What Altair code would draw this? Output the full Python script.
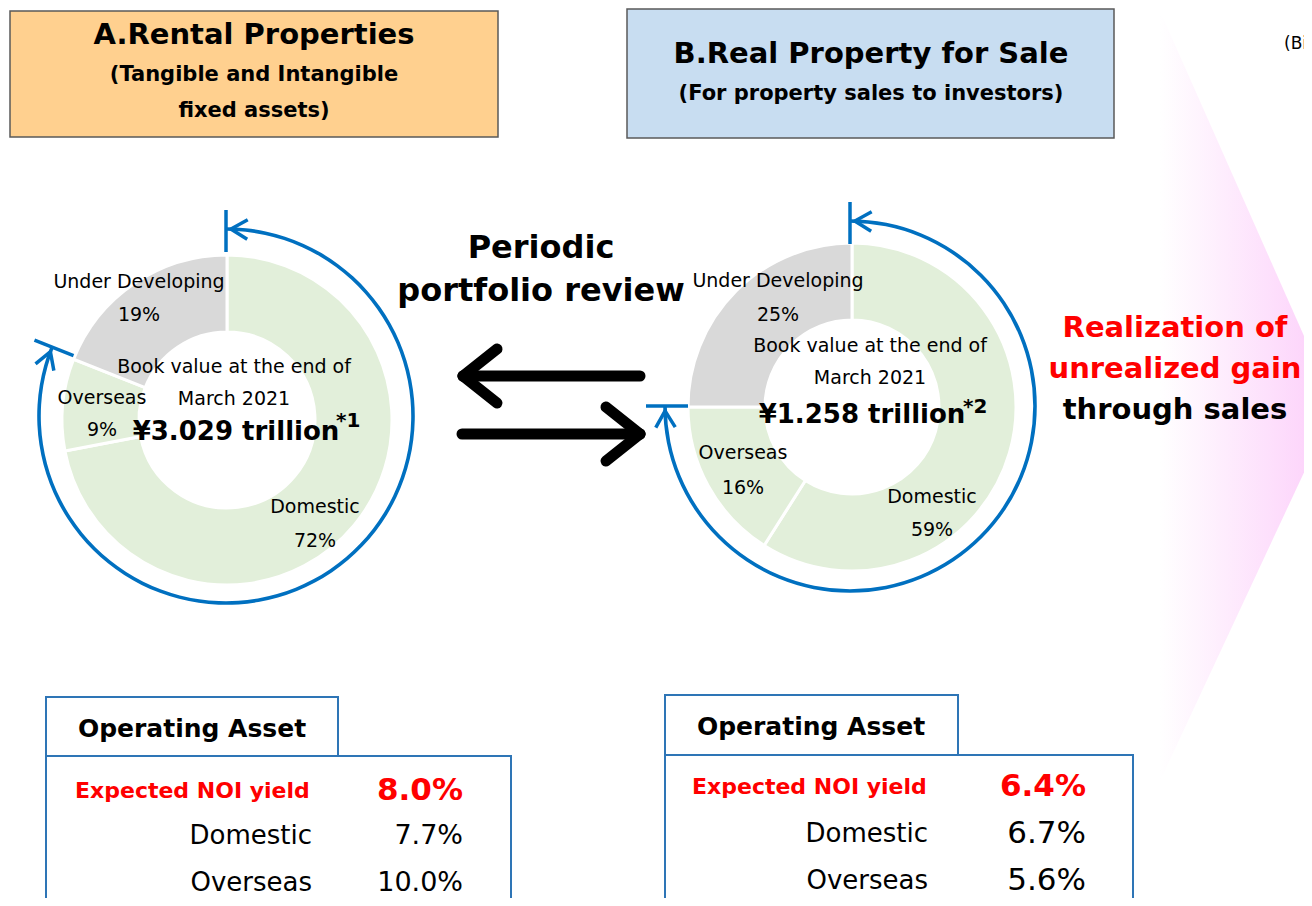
import altair as alt
import pandas as pd
import numpy as np

FONT = "DejaVu Sans"

# ---------------- data ----------------
segments = ["Domestic", "Overseas", "Under Developing"]
share_A = [72, 9, 19]
share_B = [59, 16, 25]
seg_colors = ["#E2EFDA", "#E2EFDA", "#D9D9D9"]
book_values = [3.029, 1.258]          # trillion yen
footnotes = ["*1", "*2"]
noi_labels = ["Expected NOI yield", "Domestic", "Overseas"]
noi_A = [8.0, 7.7, 10.0]
noi_B = [6.4, 6.7, 5.6]

# ---------------- layout (page pixel coordinates) ----------------
W, H = 1296, 890
XS = alt.Scale(domain=[8, 8 + W], range=[0, W], nice=False, zero=False)
YS = alt.Scale(domain=[8, 8 + H], range=[0, H], nice=False, zero=False)
BLUE = "#0070C0"
TBLUE = "#2E75B6"

DONUT = {"A": dict(cx=227, cy=416, ri=88, ro=165, ring=(226, 412, 187)),
         "B": dict(cx=852, cy=403, ri=87, ro=164, ring=(850, 402, 185))}
LABEL_POS = {"A": {"Domestic": (315, 503, 537), "Overseas": (102, 394, 426),
                   "Under Developing": (139, 278, 311)},
             "B": {"Domestic": (932, 493, 526), "Overseas": (743, 449, 484),
                   "Under Developing": (778, 277, 311)}}
CENTER_POS = {"A": (234, 363, 395, 236, 428, 336, 417),
              "B": (870, 342, 374, 862, 411, 963, 403)}
TABLE = {"A": dict(tab=(46, 338, 693, 752), body=(46, 511, 752, 920),
                   head=(192, 725), lab_left=75, lab_right=312, val_right=463,
                   rows=(787, 832, 879), val_size=27),
         "B": dict(tab=(665, 958, 691, 751), body=(665, 1133, 751, 920),
                   head=(811, 723), lab_left=692, lab_right=928, val_right=1086,
                   rows=(783, 830, 877), val_size=31)}


def X(f="x"):
    return alt.X(f + ":Q", scale=XS, axis=None)


def Y(f="y"):
    return alt.Y(f + ":Q", scale=YS, axis=None)


def texts(rows, size, weight="normal", color="black", align="center", baseline="middle"):
    df = pd.DataFrame(rows, columns=["t", "x", "y"])
    return alt.Chart(df).mark_text(font=FONT, fontSize=size, fontWeight=weight, color=color,
                                   align=align, baseline=baseline).encode(
        x=X(), y=Y(), text="t:N")


def rects(rows, fill, stroke, sw):
    df = pd.DataFrame(rows, columns=["x", "x2", "y", "y2"])
    return alt.Chart(df).mark_rect(fill=fill, stroke=stroke, strokeWidth=sw).encode(
        x=X(), x2="x2:Q", y=Y(), y2="y2:Q")


def segs(rows, color, sw, cap="butt"):
    df = pd.DataFrame(rows, columns=["x", "y", "x2", "y2"])
    return alt.Chart(df).mark_rule(color=color, strokeWidth=sw, strokeCap=cap).encode(
        x=X(), y=Y(), x2="x2:Q", y2="y2:Q")


def polar(cx, cy, r, deg):
    a = np.deg2rad(deg)
    return cx + r * np.sin(a), cy - r * np.cos(a)


layers = []

# pink chevron with gradient
pink = pd.DataFrame({"x": [1160, 1335], "y": [7, 402], "y2": [777, 402]})
layers.append(alt.Chart(pink).mark_area(
    color=alt.Gradient(gradient="linear",
                       stops=[alt.GradientStop(color="#FFFFFF", offset=0),
                              alt.GradientStop(color="#FCCDFA", offset=1)],
                       x1=0, x2=1, y1=0, y2=0)).encode(x=X(), y=Y(), y2="y2:Q"))

# header boxes
layers.append(rects([(10, 498, 7, 133)], "#FFD08F", "#5A5A5A", 1.5))
layers.append(rects([(627, 1114, 5, 134)], "#C8DDF1", "#5A5A5A", 1.5))
layers.append(texts([("A.Rental Properties", 254, 31)], 29, "bold"))
layers.append(texts([("(Tangible and Intangible", 254, 71), ("fixed assets)", 254, 107)], 21, "bold"))
layers.append(texts([("B.Real Property for Sale", 871, 50)], 29, "bold"))
layers.append(texts([("(For property sales to investors)", 871, 90)], 21, "bold"))
layers.append(texts([("(Billion yen)", 1284, 40)], 17, align="left"))

# donuts
ARROW = "M 1.7 -1 L 0 0 L 1.7 1"
for key, shares, bv, fn in [("A", share_A, book_values[0], footnotes[0]),
                            ("B", share_B, book_values[1], footnotes[1])]:
    d = DONUT[key]
    frac = np.array(shares) / sum(shares)
    end = np.cumsum(frac) * 2 * np.pi
    start = end - frac * 2 * np.pi
    df = pd.DataFrame({"seg": segments, "share": shares, "start": start, "end": end,
                       "cx": d["cx"], "cy": d["cy"]})
    layers.append(alt.Chart(df).mark_arc(innerRadius=d["ri"], outerRadius=d["ro"],
                                         stroke="white", strokeWidth=3).encode(
        x=X("cx"), y=Y("cy"),
        theta=alt.Theta("start:Q", scale=None, stack=None), theta2="end:Q",
        color=alt.Color("seg:N", scale=alt.Scale(domain=segments, range=seg_colors), legend=None)))

    # blue ring spanning Domestic + Overseas
    rcx, rcy, rr = d["ring"]
    ring_end = float(end[1])
    ring = pd.DataFrame({"start": [0.0], "end": [ring_end], "cx": [rcx], "cy": [rcy]})
    layers.append(alt.Chart(ring).mark_arc(innerRadius=rr - 1.8, outerRadius=rr + 1.8,
                                           color=BLUE).encode(
        x=X("cx"), y=Y("cy"),
        theta=alt.Theta("start:Q", scale=None, stack=None), theta2="end:Q"))
    end_deg = np.rad2deg(ring_end)
    ticks = []
    for ang in [0.0, end_deg]:
        x1, y1 = polar(rcx, rcy, rr - 23, ang)
        x2, y2 = polar(rcx, rcy, rr + 19, ang)
        ticks.append((x1, y1, x2, y2))
    layers.append(segs(ticks, BLUE, 3.5))
    hx1, hy1 = polar(rcx, rcy, rr, 1.5)
    hx2, hy2 = polar(rcx, rcy, rr, end_deg - 1.5)
    heads = pd.DataFrame({"x": [hx1, hx2], "y": [hy1, hy2],
                          "ang": [1.5, (end_deg - 1.5 + 180) % 360]})
    layers.append(alt.Chart(heads).mark_point(shape=ARROW, filled=False, stroke=BLUE,
                                              strokeWidth=3.5, size=380, opacity=1).encode(
        x=X(), y=Y(), angle=alt.Angle("ang:Q", scale=None)))

    # labels
    lab = []
    for s, v in zip(segments, shares):
        lx, ly1, ly2 = LABEL_POS[key][s]
        lab += [(s, lx, ly1), (f"{v}%", lx, ly2)]
    c = CENTER_POS[key]
    lab += [("Book value at the end of", c[0], c[1]), ("March 2021", c[0], c[2])]
    layers.append(texts(lab, 19))
    layers.append(texts([(f"¥{bv:.3f} trillion", c[3], c[4])], 26, "bold"))
    layers.append(texts([(fn, c[5], c[6])], 20, "bold", align="left"))

# middle arrows
layers.append(segs([(463, 372, 640, 372), (463, 372, 497, 345), (463, 372, 497, 399),
                    (462, 430, 640, 430), (640, 430, 606, 403), (640, 430, 606, 457)],
                   "black", 11, "round"))
layers.append(texts([("Periodic", 541, 244), ("portfolio review", 541, 287)], 32, "bold"))

# right side text
layers.append(texts([("Realization of", 1175, 324), ("unrealized gain", 1175, 365)], 29, "bold", "#FF0000"))
layers.append(texts([("through sales", 1175, 406)], 29, "bold"))

# tables
for key, vals in [("A", noi_A), ("B", noi_B)]:
    t = TABLE[key]
    layers.append(rects([t["body"]], "white", TBLUE, 2))
    layers.append(rects([t["tab"]], "white", TBLUE, 2))
    layers.append(texts([("Operating Asset", t["head"][0], t["head"][1])], 25, "bold"))
    r = t["rows"]
    layers.append(texts([(noi_labels[0], t["lab_left"], r[0])], 22, "bold", "#FF0000", "left"))
    layers.append(texts([(f"{vals[0]:.1f}%", t["val_right"], r[0])], 31, "bold", "#FF0000", "right"))
    layers.append(texts([(noi_labels[1], t["lab_right"], r[1]), (noi_labels[2], t["lab_right"], r[2])],
                        26, align="right"))
    layers.append(texts([(f"{vals[1]:.1f}%", t["val_right"], r[1]), (f"{vals[2]:.1f}%", t["val_right"], r[2])],
                        t["val_size"], align="right"))

chart = alt.layer(*layers).properties(
    width=W, height=H, padding=0, background="white",
    autosize=alt.AutoSizeParams(type="fit", contains="padding")
).configure_view(stroke=None)

chart.save("out.html", embed_options={"renderer": "svg", "actions": False})
